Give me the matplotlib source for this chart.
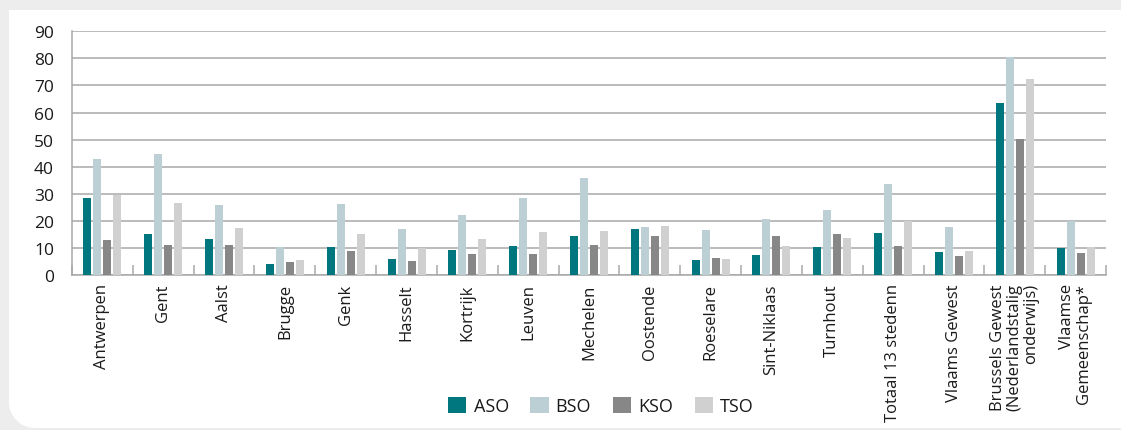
import matplotlib
matplotlib.use("Agg")
import matplotlib.pyplot as plt
import numpy as np
from matplotlib.path import Path
from matplotlib.patches import PathPatch, Patch
from matplotlib.ticker import FixedLocator

plt.rcParams['font.family'] = ['Open Sans', 'DejaVu Sans']

categories = [
    "Antwerpen", "Gent", "Aalst", "Brugge", "Genk", "Hasselt", "Kortrijk",
    "Leuven", "Mechelen", "Oostende", "Roeselare", "Sint-Niklaas", "Turnhout",
    "Totaal 13 stedenn", "Vlaams Gewest",
    "Brussels Gewest\n(Nederlandstalig\nonderwijs)",
    "Vlaamse\nGemeenschap*",
]
series_names = ["ASO", "BSO", "KSO", "TSO"]
aso = [28.4, 15.1, 13.3, 4.1, 10.3, 5.9, 9.2, 10.7, 14.4, 17.0, 5.5, 7.4, 10.3, 15.5, 8.5, 63.5, 10.0]
bso = [42.8, 44.7, 25.8, 10.2, 26.2, 17.0, 22.2, 28.4, 35.8, 17.7, 16.6, 20.7, 24.0, 33.6, 17.7, 80.5, 19.9]
kso = [13.0, 11.1, 11.1, 4.8, 8.9, 5.2, 7.8, 7.8, 11.1, 14.4, 6.3, 14.4, 15.1, 10.7, 7.0, 50.1, 8.1]
tso = [29.7, 26.6, 17.4, 5.5, 15.1, 10.0, 13.3, 15.9, 16.2, 18.1, 5.9, 10.7, 13.7, 19.9, 8.9, 72.4, 10.3]
colors = ["#00767e", "#bccfd5", "#878787", "#d0d0d0"]
y_ticks = [0, 10, 20, 30, 40, 50, 60, 70, 80, 90]

W, H = 1121, 431
fig = plt.figure(figsize=(W / 100, H / 100), dpi=100, facecolor="#ededed")

# White panel with a rounded lower-left corner (pixel coordinates -> figure fractions)
left_px, top_px, right_px, bottom_px, r = 9, 11, 1125, 429, 26
k = 0.5523
pts_px = [
    (left_px, top_px), (right_px, top_px), (right_px, bottom_px),
    (left_px + r, bottom_px),
    (left_px + r - k * r, bottom_px), (left_px, bottom_px - r + k * r), (left_px, bottom_px - r),
    (left_px, top_px),
]
codes = [Path.MOVETO, Path.LINETO, Path.LINETO, Path.LINETO,
         Path.CURVE4, Path.CURVE4, Path.CURVE4, Path.CLOSEPOLY]
verts = [(x / W, 1 - y / H) for x, y in pts_px]
panel = PathPatch(Path(verts, codes), facecolor="white", edgecolor="none",
                  transform=fig.transFigure, zorder=-10)
fig.patches.append(panel)

ax_l, ax_r, ax_t, ax_b = 72, 1106, 32.3, 276
ax = fig.add_axes([ax_l / W, 1 - ax_b / H, (ax_r - ax_l) / W, (ax_b - ax_t) / H])
ax.set_facecolor("none")
ax.set_zorder(1)

x = np.arange(len(categories))
bar_w = 0.132
step = 0.1645
for i, (vals, c, name) in enumerate(zip([aso, bso, kso, tso], colors, series_names)):
    ax.bar(x + (i - 1.5) * step, vals, width=bar_w, color=c, label=name, zorder=3)

ax.set_xlim(-0.5, len(categories) - 0.5)
ax.set_ylim(0, 90)
ax.yaxis.set_major_locator(FixedLocator(y_ticks))
ax.set_yticklabels([str(v) for v in y_ticks])
ax.grid(axis="y", color="#a8a8a8", linewidth=1.1, zorder=1)
ax.set_axisbelow(True)

ax.set_xticks(x)
ax.set_xticklabels(categories, rotation=90, fontsize=12, color="#1a1a1a",
                   multialignment="right", linespacing=1.05)
ax.xaxis.set_minor_locator(FixedLocator(np.arange(-0.5, len(categories), 1.0)))
ax.tick_params(axis="x", which="major", length=0, pad=6)
ax.tick_params(axis="x", which="minor", direction="in", length=7, width=1.1, color="#a8a8a8")
ax.tick_params(axis="y", length=0, pad=13, labelsize=12.5, labelcolor="#1a1a1a")

for s in ["top", "right"]:
    ax.spines[s].set_visible(False)
for s in ["left", "bottom"]:
    ax.spines[s].set_color("#a8a8a8")
    ax.spines[s].set_linewidth(1.1)

handles = [Patch(facecolor=c, edgecolor="none") for c in colors]
fig.legend(handles, series_names, loc="center", bbox_to_anchor=(601 / W, 1 - 407 / H),
           ncol=4, frameon=False, fontsize=13, handlelength=1.0, handleheight=1.0,
           handletextpad=0.4, columnspacing=1.2, borderpad=0, labelcolor="#1a1a1a")

fig.savefig("out.png", dpi=100, facecolor=fig.get_facecolor())
